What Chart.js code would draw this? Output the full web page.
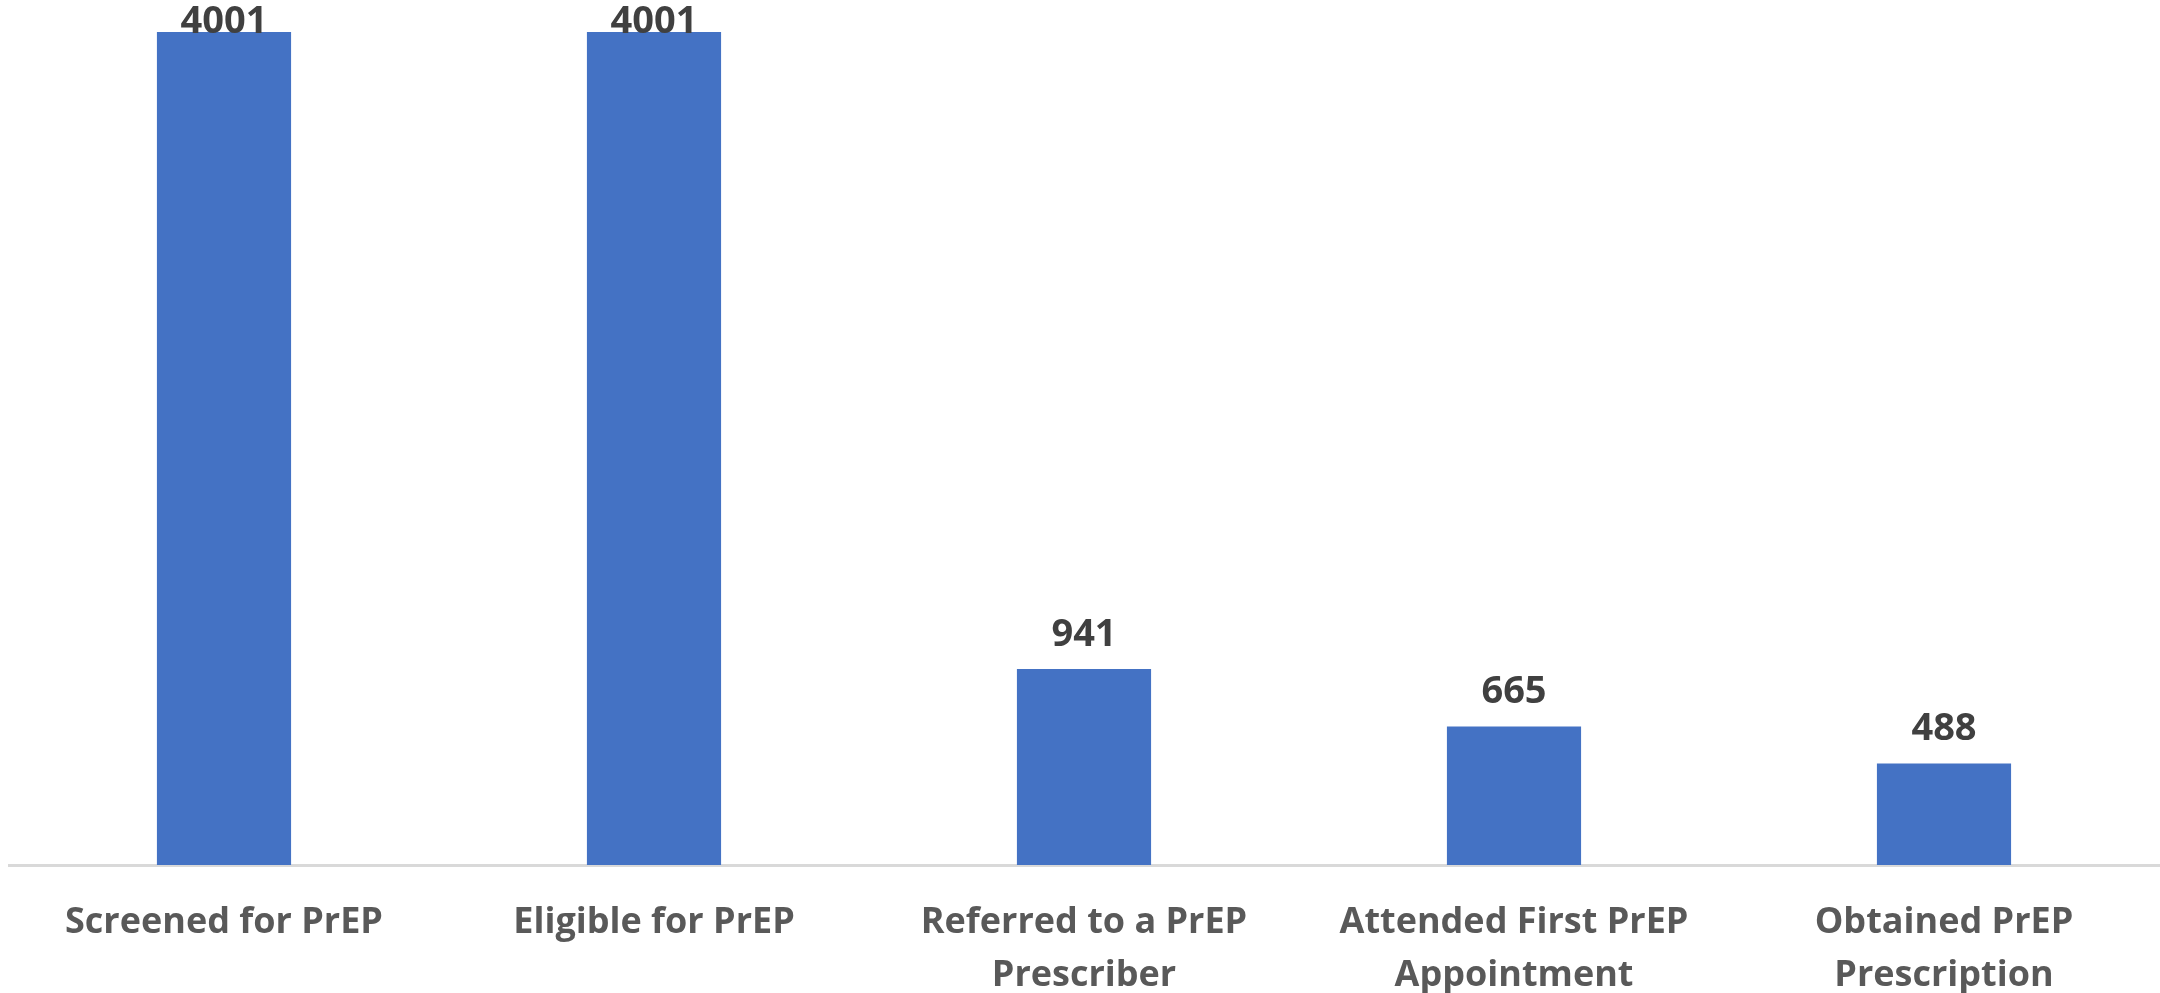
<!DOCTYPE html>
<html>
<head>
<meta charset="utf-8">
<title>PrEP cascade</title>
<script src="https://cdn.jsdelivr.net/npm/chart.js@4/dist/chart.umd.min.js"></script>
<style>
  html, body { margin: 0; padding: 0; background: #fff; }
  canvas { display: block; }
</style>
</head>
<body>
<canvas id="chart" width="2160" height="993"></canvas>
<script>
// data
const categories = [
  "Screened for PrEP",
  "Eligible for PrEP",
  ["Referred to a PrEP", "Prescriber"],
  ["Attended First PrEP", "Appointment"],
  ["Obtained PrEP", "Prescription"]
];
const counts = [4001, 4001, 941, 665, 488];

// value labels above each bar
const valueLabels = {
  id: "valueLabels",
  afterDatasetsDraw(chart) {
    const ctx = chart.ctx;
    const meta = chart.getDatasetMeta(0);
    ctx.save();
    ctx.font = "bold 38px 'Open Sans'";
    ctx.fillStyle = "#404040";
    ctx.textAlign = "center";
    ctx.textBaseline = "middle";
    meta.data.forEach((bar, i) => {
      const y = Math.max(bar.y - 34, chart.chartArea.top - 10);
      ctx.fillText(String(counts[i]), bar.x, y);
    });
    ctx.restore();
  }
};

new Chart(document.getElementById("chart"), {
  type: "bar",
  data: {
    labels: categories,
    datasets: [{
      data: counts,
      backgroundColor: "#4472C4",
      borderWidth: 0,
      categoryPercentage: 1,
      barPercentage: 0.312
    }]
  },
  options: {
    responsive: false,
    animation: false,
    devicePixelRatio: 1,
    layout: { padding: { top: 32, left: 9, right: 1, bottom: 0 } },
    plugins: {
      legend: { display: false },
      tooltip: { enabled: false }
    },
    scales: {
      x: {
        grid: { display: false, drawTicks: false },
        border: { color: "#D9D9D9", width: 3 },
        ticks: {
          color: "#595959",
          font: { family: "'Open Sans'", size: 36, weight: "bold", lineHeight: 1.47 },
          padding: 31,
          maxRotation: 0,
          autoSkip: false
        },
        afterFit(scale) { scale.height = 128; }
      },
      y: {
        display: false,
        min: 0,
        max: 4001
      }
    }
  },
  plugins: [valueLabels]
});
</script>
</body>
</html>
